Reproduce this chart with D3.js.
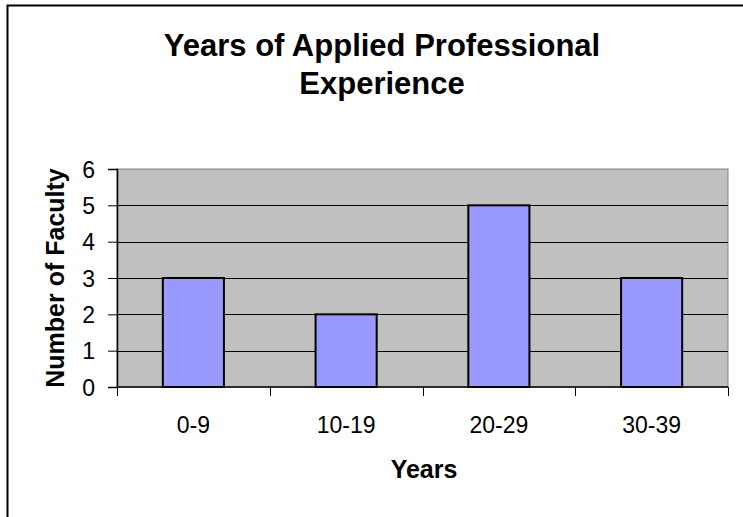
<!DOCTYPE html>
<html>
<head>
<meta charset="utf-8">
<script src="https://cdn.jsdelivr.net/npm/d3@7"></script>
<style>
  body { margin: 0; background: #fff; }
  text { font-family: Arial, "Liberation Sans", sans-serif; fill: #000; }
</style>
</head>
<body>
<svg id="chart" width="743" height="517"></svg>
<script>
// данни от графиката
const categories = ["0-9", "10-19", "20-29", "30-39"];
const faculty = [3, 2, 5, 3];
const yTicks = [0, 1, 2, 3, 4, 5, 6];
const titleLines = ["Years of Applied Professional", "Experience"];

const svg = d3.select("#chart");

// рамка на цялата диаграма (излиза извън кадъра вдясно и долу)
svg.append("rect")
  .attr("x", 7.5).attr("y", 5.5)
  .attr("width", 760).attr("height", 540)
  .attr("fill", "#fff")
  .attr("stroke", "#000")
  .attr("stroke-width", 2);

const plot = { left: 117, right: 728, top: 169, bottom: 387 };

const x = d3.scaleBand()
  .domain(categories)
  .range([plot.left, plot.right])
  .paddingInner(0.6)
  .paddingOuter(0.3);

const y = d3.scaleLinear()
  .domain([0, 6])
  .range([plot.bottom, plot.top]);

// сив фон
svg.append("rect")
  .attr("x", plot.left).attr("y", plot.top)
  .attr("width", plot.right - plot.left)
  .attr("height", plot.bottom - plot.top)
  .attr("fill", "#c0c0c0")
  .attr("stroke", "#808080")
  .attr("stroke-width", 1);

// хоризонтални линии
svg.append("g")
  .selectAll("line")
  .data(yTicks.filter((d) => d > 0 && d < 6))
  .join("line")
  .attr("x1", plot.left).attr("x2", plot.right)
  .attr("y1", (d) => Math.round(y(d)) + 0.5)
  .attr("y2", (d) => Math.round(y(d)) + 0.5)
  .attr("stroke", "#000")
  .attr("stroke-width", 1);

// стълбове
svg.append("g")
  .selectAll("rect")
  .data(faculty)
  .join("rect")
  .attr("x", (d, i) => x(categories[i]))
  .attr("y", (d) => y(d))
  .attr("width", x.bandwidth())
  .attr("height", (d) => y(0) - y(d))
  .attr("fill", "#9999ff")
  .attr("stroke", "#000")
  .attr("stroke-width", 2);

// ос Y
const yAxis = svg.append("g")
  .attr("transform", `translate(${plot.left},0)`)
  .call(d3.axisLeft(y).tickValues(yTicks).tickFormat(d3.format("d")).tickSize(9).tickPadding(13));
yAxis.select(".domain").attr("stroke", "#000").attr("stroke-width", 1.5);
yAxis.selectAll(".tick line").attr("stroke", "#000");
yAxis.selectAll(".tick text")
  .attr("dy", "0.36em")
  .style("font-size", "23px")
  .attr("font-family", null);

// ос X - чертички по границите на категориите
const xLine = d3.scalePoint()
  .domain(d3.range(categories.length + 1))
  .range([plot.left, plot.right]);

svg.append("line")
  .attr("x1", plot.left).attr("x2", plot.right)
  .attr("y1", plot.bottom).attr("y2", plot.bottom)
  .attr("stroke", "#000").attr("stroke-width", 1.5);

svg.append("g")
  .selectAll("line")
  .data(xLine.domain())
  .join("line")
  .attr("x1", (d) => Math.round(xLine(d)) + 0.5)
  .attr("x2", (d) => Math.round(xLine(d)) + 0.5)
  .attr("y1", plot.bottom).attr("y2", plot.bottom + 9)
  .attr("stroke", "#000");

svg.append("g")
  .selectAll("text")
  .data(categories)
  .join("text")
  .attr("x", (d) => x(d) + x.bandwidth() / 2)
  .attr("y", 433)
  .attr("text-anchor", "middle")
  .style("font-size", "23px")
  .text((d) => d);

// заглавие
svg.append("g")
  .selectAll("text")
  .data(titleLines)
  .join("text")
  .attr("x", 382)
  .attr("y", (d, i) => 56 + i * 38)
  .attr("text-anchor", "middle")
  .style("font-size", "31px")
  .style("font-weight", "bold")
  .text((d) => d);

// надписи на осите
svg.append("text")
  .attr("transform", `translate(64,${(plot.top + plot.bottom) / 2}) rotate(-90)`)
  .attr("text-anchor", "middle")
  .style("font-size", "25px")
  .style("font-weight", "bold")
  .text("Number of Faculty");

svg.append("text")
  .attr("x", 424)
  .attr("y", 478)
  .attr("text-anchor", "middle")
  .style("font-size", "25px")
  .style("font-weight", "bold")
  .text("Years");
</script>
</body>
</html>
